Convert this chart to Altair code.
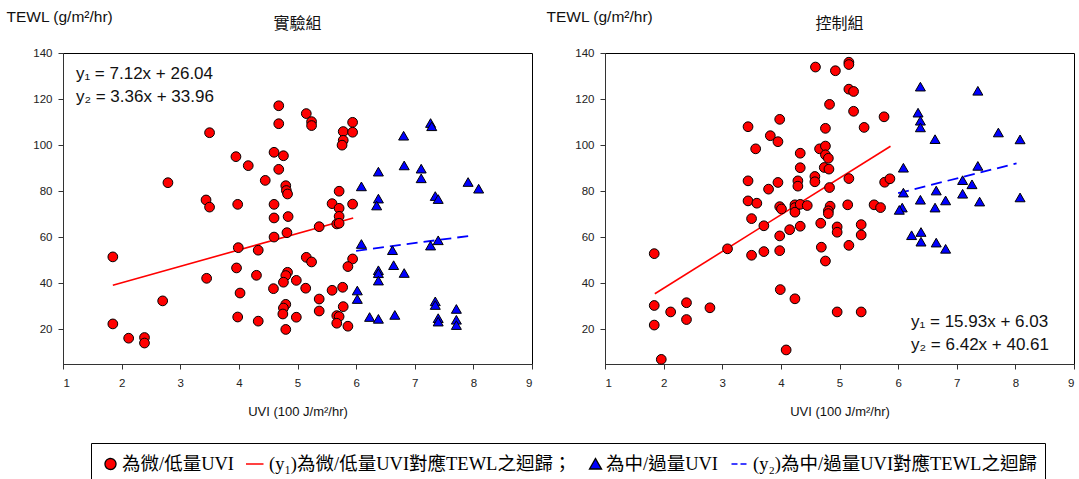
import altair as alt
import pandas as pd

# ---------------- data ----------------
exp_low_x = [4.68, 5.15, 4.68, 3.50, 3.95, 4.60, 4.76, 4.16, 4.68, 4.45,
             4.80, 4.81, 4.83, 2.79, 3.44, 3.50, 3.98, 4.60, 4.60, 4.84,
             4.82, 4.60, 3.99, 4.33, 1.85, 5.15, 3.96, 4.83, 4.80, 4.76,
             4.30, 4.98, 3.45, 4.59, 5.14, 4.02, 2.70, 4.80, 4.76, 4.75,
             4.98, 3.98, 4.33, 4.80, 1.85, 2.12, 2.39, 2.39,
             5.24, 5.24, 5.94, 5.78, 5.94, 5.78, 5.76, 5.71, 5.59, 5.94,
             5.71, 5.71, 5.67, 5.71, 5.37, 5.24, 5.94, 5.86, 5.59, 5.77,
             5.37, 5.37, 5.78, 5.67, 5.71, 5.67, 5.86]
exp_low_y = [117.1, 113.7, 109.3, 105.4, 95.0, 96.9, 95.4, 91.1, 89.5, 84.7,
             82.4, 80.3, 78.8, 83.7, 76.2, 73.1, 74.3, 74.3, 68.4, 69.0,
             62.0, 60.1, 55.5, 54.4, 51.5, 51.3, 46.7, 44.8, 43.4, 40.5,
             43.5, 41.3, 42.2, 37.7, 37.9, 35.8, 32.4, 30.9, 29.3, 26.7,
             25.3, 25.4, 23.6, 20.0, 22.4, 16.2, 16.5, 14.1,
             110.2, 108.5, 109.9, 105.9, 105.6, 102.1, 100.0, 80.0, 74.6, 74.4,
             72.6, 69.1, 65.8, 66.1, 64.6, 49.3, 50.6, 47.3, 37.0, 38.3,
             33.2, 28.0, 29.9, 26.0, 25.6, 22.7, 21.4]

exp_high_x = [7.27, 7.29, 6.81, 6.38, 6.82, 7.11, 7.11, 7.91, 8.09, 6.09,
              7.35, 7.40, 6.38, 6.35, 6.09, 6.62, 7.27, 7.40, 6.64, 6.38,
              6.82, 6.38, 6.38, 6.02, 6.02, 7.35, 7.35, 7.71, 6.23, 6.38,
              6.66, 7.40, 7.40, 7.71, 7.71]
exp_high_y = [109.6, 108.2, 104.1, 88.5, 91.2, 89.8, 85.6, 84.0, 81.1, 82.1,
              77.9, 76.6, 76.8, 73.8, 57.1, 54.4, 56.4, 58.7, 47.9, 45.7,
              44.5, 44.4, 41.2, 36.9, 33.2, 32.2, 30.6, 28.9, 25.4, 24.6,
              26.3, 24.9, 23.4, 24.2, 21.9]

ctl_low_x = [4.59, 4.93, 4.83, 3.98, 3.44, 3.82, 3.95, 4.76, 3.57, 4.33,
             4.66, 4.76, 4.76, 4.81, 4.33, 4.74, 4.82, 4.58, 4.58, 4.29,
             4.29, 3.95, 3.44, 3.79, 4.83, 3.44, 3.59, 3.98, 4.01, 4.24,
             4.24, 4.24, 4.33, 4.45, 4.84, 4.81, 4.81, 3.50, 3.71, 4.33,
             4.15, 4.68, 4.96, 4.96, 3.98, 3.09, 3.50, 3.71, 3.98, 4.69,
             4.76, 1.84, 3.99, 4.24, 4.96, 1.84, 2.12, 2.39, 2.39, 2.79,
             1.84,
             5.16, 5.16, 5.16, 5.24, 5.24, 5.76, 5.42, 5.16, 5.77, 5.86,
             5.14, 5.59, 5.70, 5.37, 5.37, 5.16, 5.37,
             1.96, 4.09]
ctl_low_y = [133.9, 132.3, 117.7, 111.2, 108.0, 104.1, 101.5, 107.3, 98.4, 96.5,
             98.4, 99.6, 95.8, 94.3, 90.2, 90.3, 89.6, 86.4, 84.1, 84.5,
             82.2, 83.8, 84.5, 80.9, 81.6, 75.8, 74.8, 73.3, 72.3, 74.1,
             72.9, 70.9, 74.3, 73.8, 73.5, 71.5, 70.3, 68.1, 65.0, 64.8,
             63.3, 66.1, 64.5, 62.2, 60.6, 55.0, 52.2, 53.8, 54.2, 55.7,
             49.7, 52.9, 37.3, 33.3, 27.6, 30.4, 27.6, 31.6, 24.3, 29.4,
             21.9,
             136.0, 135.0, 124.3, 123.3, 114.7, 112.3, 107.7, 85.5, 83.9, 85.4,
             74.1, 74.1, 72.9, 65.5, 61.0, 56.5, 27.6,
             7.0, 11.1]

ctl_high_x = [6.38, 7.36, 6.34, 6.38, 6.38, 6.63, 7.71, 8.08, 6.09, 7.36,
              7.10, 7.26, 6.65, 6.09, 6.38, 6.81, 7.10, 7.39, 8.08, 6.07,
              6.02, 6.63, 6.23, 6.39, 6.39, 6.65, 6.81]
ctl_high_y = [125.4, 123.6, 114.1, 110.6, 107.7, 102.6, 105.5, 102.5, 90.2, 91.0,
              84.8, 83.0, 80.3, 79.4, 76.3, 76.0, 78.9, 75.5, 77.3, 72.9,
              71.9, 72.9, 60.9, 62.3, 58.1, 57.7, 55.0]

# regression equations: (slope, intercept) and the x-range drawn
exp_reg1 = (7.12, 26.04)
exp_reg1_x = [1.85, 5.95]
exp_reg2 = (3.36, 33.96)
exp_reg2_x = [6.0, 8.0]
ctl_reg1 = (15.93, 6.03)
ctl_reg1_x = [1.85, 5.87]
ctl_reg2 = (6.42, 40.61)
ctl_reg2_x = [6.0, 8.02]

exp_eq_text = ["y₁ = 7.12x + 26.04", "y₂ = 3.36x + 33.96"]
ctl_eq_text = ["y₁ = 15.93x + 6.03", "y₂ = 6.42x + 40.61"]

panel_titles = ["實驗組", "控制組"]
x_ticks = [1, 2, 3, 4, 5, 6, 7, 8, 9]
y_ticks = [20, 40, 60, 80, 100, 120, 140]

SERIES = ["為微/低量UVI",
          "(y₁)為微/低量UVI對應TEWL之迴歸；",
          "為中/過量UVI",
          "(y₂)為中/過量UVI對應TEWL之迴歸"]

# ---------------- layout / styles ----------------
# annotation anchor positions (data coordinates)
exp_eq_pos = (1.22, [130.7, 120.8])
ctl_eq_pos = (6.22, [23.1, 13.1])

RED = "#ff0000"
BLUE = "#0000ff"
SANS = "Liberation Sans"
CJK = "Noto Sans CJK TC"
SERIF_MIX = "Liberation Serif, Noto Sans CJK TC"
W, H = 469, 311

# legend symbols (custom paths so that each entry looks like the reference)
LEG_SHAPES = [
    "M0.105,-0.579A0.579,0.579,0,1,1,0.105,0.579A0.579,0.579,0,1,1,0.105,-0.579Z",
    "M-1.789,0H0.737",
    "M0.21,-0.579L0.842,0.526L-0.421,0.526Z",
    "M-1.895,0H0.947",
]
LEG_FILL = [RED, "transparent", BLUE, "transparent"]
LEG_STROKE = ["black", RED, "black", BLUE]
LEG_DASH = [[1, 0], [1, 0], [1, 0], [6, 3]]


def line_df(coef, xr):
    m, b = coef
    return pd.DataFrame({"x": xr, "y": [m * v + b for v in xr]})


def make_panel(low_x, low_y, high_x, high_y, reg1, reg1_x, reg2, reg2_x,
               eq_text, eq_pos, title, ytitle_x, legend_layer):
    x_axis = alt.Axis(values=x_ticks, title="UVI (100 J/m²/hr)", grid=False,
                      tickSize=5, labelPadding=8, titlePadding=17,
                      labelFont=SANS, labelFontSize=11.5, labelColor="#222",
                      titleFont=SANS, titleFontSize=13, titleFontWeight="normal",
                      titleColor="#111", domainColor="#333", tickColor="#333",
                      format="d")
    y_axis = alt.Axis(values=y_ticks, title="TEWL (g/m²/hr)", grid=False,
                      tickSize=5, labelPadding=6,
                      labelFont=SANS, labelFontSize=11.5, labelColor="#222",
                      titleFont=SANS, titleFontSize=15.5, titleFontWeight="normal",
                      titleColor="#111", titleAngle=0, titleAlign="left",
                      titleBaseline="alphabetic", titleX=ytitle_x, titleY=-32,
                      domainColor="#333", tickColor="#333")
    xe = alt.X("x:Q", scale=alt.Scale(domain=[1, 9], nice=False, zero=False), axis=x_axis)
    ye = alt.Y("y:Q", scale=alt.Scale(domain=[5, 140], nice=False, zero=False), axis=y_axis)

    low = pd.DataFrame({"x": low_x, "y": low_y})
    high = pd.DataFrame({"x": high_x, "y": high_y})

    pts_low = alt.Chart(low).mark_point(shape="circle", filled=True, fill=RED,
                                        stroke="black", strokeWidth=1, size=95,
                                        opacity=1).encode(x=xe, y=ye)
    pts_high = alt.Chart(high).mark_point(shape="triangle-up", filled=True, fill=BLUE,
                                          stroke="black", strokeWidth=1, size=100,
                                          opacity=1).encode(x=xe, y=ye)
    l1 = alt.Chart(line_df(reg1, reg1_x)).mark_line(color=RED, strokeWidth=1.6).encode(x=xe, y=ye)
    l2 = alt.Chart(line_df(reg2, reg2_x)).mark_line(color=BLUE, strokeWidth=1.8,
                                                    strokeDash=[11, 6]).encode(x=xe, y=ye)
    eq = pd.DataFrame({"x": [eq_pos[0]] * 2, "y": eq_pos[1], "t": eq_text})
    eqs = alt.Chart(eq).mark_text(align="left", baseline="middle", font=SANS,
                                  fontSize=17, color="#111").encode(x=xe, y=ye, text="t:N")
    layers = [l1, l2, pts_low, pts_high, eqs]
    if legend_layer:
        leg = pd.DataFrame({"series": SERIES})
        lg = alt.Chart(leg).transform_filter("false").mark_point(
            filled=True, opacity=1, strokeWidth=1.3).encode(
            fill=alt.Fill("series:N", title=None,
                          scale=alt.Scale(domain=SERIES, range=LEG_FILL)),
            stroke=alt.Stroke("series:N", title=None,
                              scale=alt.Scale(domain=SERIES, range=LEG_STROKE)),
            shape=alt.Shape("series:N", title=None,
                            scale=alt.Scale(domain=SERIES, range=LEG_SHAPES)),
            strokeDash=alt.StrokeDash("series:N", title=None,
                                      scale=alt.Scale(domain=SERIES, range=LEG_DASH)),
        )
        layers.append(lg)
    return alt.layer(*layers).properties(
        width=W, height=H,
        title=alt.TitleParams(title, font=CJK, fontSize=16, fontWeight="normal",
                              color="#111", offset=-23),
    )


left = make_panel(exp_low_x, exp_low_y, exp_high_x, exp_high_y,
                  exp_reg1, exp_reg1_x, exp_reg2, exp_reg2_x,
                  exp_eq_text, exp_eq_pos, panel_titles[0], -57, True)
right = make_panel(ctl_low_x, ctl_low_y, ctl_high_x, ctl_high_y,
                   ctl_reg1, ctl_reg1_x, ctl_reg2, ctl_reg2_x,
                   ctl_eq_text, ctl_eq_pos, panel_titles[1], -59, False)

chart = alt.hconcat(left, right, spacing=12).properties(
    padding={"left": 5, "top": 8, "right": 0, "bottom": 0}
).configure_view(stroke="black", strokeWidth=1).configure_legend(
    orient="none", legendX=28, legendY=390, direction="horizontal",
    strokeColor="black", fillColor="white", padding=8, clipHeight=26,
    labelFont=SERIF_MIX, labelFontSize=18.5, labelColor="black", labelLimit=700,
    columnPadding=11, labelOffset=2, symbolSize=361, symbolStrokeWidth=1.3,
)

chart.save("out.html", embed_options={"renderer": "svg", "actions": False})
